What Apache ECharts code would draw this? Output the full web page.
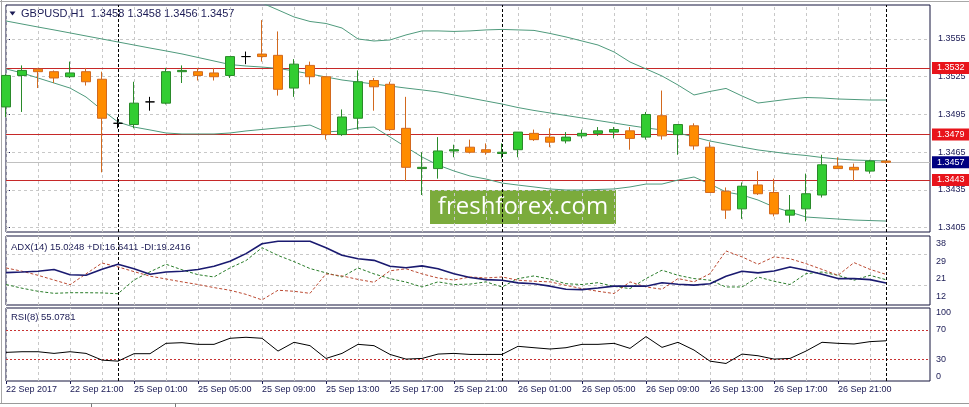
<!DOCTYPE html>
<html><head><meta charset="utf-8">
<script src="https://cdn.jsdelivr.net/npm/echarts@6/dist/echarts.min.js"></script>
<style>html,body{margin:0;padding:0;background:#fff;}#c{width:969px;height:407px;}</style>
</head><body><div id="c"></div>
<script>
const symbol = 'GBPUSD,H1';
const times = [
 '22 Sep 17:00','22 Sep 18:00','22 Sep 19:00','22 Sep 20:00','22 Sep 21:00','22 Sep 22:00','22 Sep 23:00',
 '25 Sep 00:00','25 Sep 01:00','25 Sep 02:00','25 Sep 03:00','25 Sep 04:00','25 Sep 05:00','25 Sep 06:00','25 Sep 07:00',
 '25 Sep 08:00','25 Sep 09:00','25 Sep 10:00','25 Sep 11:00','25 Sep 12:00','25 Sep 13:00','25 Sep 14:00','25 Sep 15:00',
 '25 Sep 16:00','25 Sep 17:00','25 Sep 18:00','25 Sep 19:00','25 Sep 20:00','25 Sep 21:00','25 Sep 22:00','25 Sep 23:00',
 '26 Sep 00:00','26 Sep 01:00','26 Sep 02:00','26 Sep 03:00','26 Sep 04:00','26 Sep 05:00','26 Sep 06:00','26 Sep 07:00',
 '26 Sep 08:00','26 Sep 09:00','26 Sep 10:00','26 Sep 11:00','26 Sep 12:00','26 Sep 13:00','26 Sep 14:00','26 Sep 15:00',
 '26 Sep 16:00','26 Sep 17:00','26 Sep 18:00','26 Sep 19:00','26 Sep 20:00','26 Sep 21:00','26 Sep 22:00','26 Sep 23:00',
 '27 Sep 00:00'
];
const tickLabels = ['22 Sep 2017','22 Sep 21:00','25 Sep 01:00','25 Sep 05:00','25 Sep 09:00','25 Sep 13:00','25 Sep 17:00',
 '25 Sep 21:00','26 Sep 01:00','26 Sep 05:00','26 Sep 09:00','26 Sep 13:00','26 Sep 17:00','26 Sep 21:00'];

const open = [
 1.3501,1.3526,1.3531,1.3529,1.3525,1.3529,1.3523,1.3488,
 1.3487,1.3505,1.3504,1.3529,1.3529,1.3528,1.3526,1.3541,
 1.3543,1.3542,1.3516,1.3534,1.3525,1.3479,1.3492,1.3522,
 1.3519,1.3484,1.3452,1.3452,1.3466,1.3469,1.3467,1.3464,
 1.3467,1.3480,1.3477,1.3474,1.3478,1.3480,1.3481,1.3482,
 1.3477,1.3494,1.3479,1.3486,1.3469,1.3434,1.3420,1.3439,
 1.3433,1.3415,1.3420,1.3431,1.3454,1.3453,1.3450,1.3458];
const close = [
 1.3526,1.3530,1.3529,1.3524,1.3528,1.3521,1.3492,1.3488,
 1.3504,1.3505,1.3529,1.3530,1.3526,1.3525,1.3541,1.3541,
 1.3541,1.3515,1.3535,1.3525,1.3479,1.3493,1.3521,1.3517,
 1.3483,1.3453,1.3453,1.3466,1.3467,1.3465,1.3465,1.3465,
 1.3481,1.3475,1.3473,1.3477,1.3480,1.3482,1.3483,1.3476,
 1.3495,1.3478,1.3487,1.3470,1.3433,1.3419,1.3438,1.3432,
 1.3416,1.3419,1.3432,1.3455,1.3452,1.3451,1.3458,1.3457];
const low = [
 1.3493,1.3497,1.3516,1.3520,1.3524,1.3518,1.3449,1.3484,
 1.3484,1.3498,1.3503,1.3520,1.3522,1.3522,1.3524,1.3535,
 1.3537,1.3510,1.3509,1.3519,1.3475,1.3478,1.3483,1.3498,
 1.3482,1.3442,1.3431,1.3444,1.3461,1.3464,1.3463,1.3460,
 1.3461,1.3474,1.3469,1.3472,1.3476,1.3478,1.3476,1.3467,
 1.3475,1.3475,1.3463,1.3467,1.3433,1.3412,1.3412,1.3431,
 1.3414,1.3409,1.3410,1.3429,1.3452,1.3442,1.3448,1.3456];
const high = [
 1.3527,1.3534,1.3532,1.3530,1.3537,1.3532,1.3529,1.3493,
 1.3521,1.3509,1.3532,1.3534,1.3532,1.3532,1.3541,1.3545,
 1.3570,1.3561,1.3539,1.3537,1.3525,1.3499,1.3530,1.3524,
 1.3521,1.3509,1.3465,1.3477,1.3471,1.3475,1.3472,1.3472,
 1.3481,1.3483,1.3484,1.3481,1.3483,1.3485,1.3485,1.3485,
 1.3497,1.3514,1.3487,1.3488,1.3473,1.3437,1.3441,1.3450,
 1.3444,1.3431,1.3448,1.3463,1.3461,1.3456,1.3459,1.3458];

const bbUpper = [
 1.36075,1.36059,1.36051,1.36043,1.36035,1.36059,1.36114,1.36162,
 1.36154,1.36130,1.36106,1.36067,1.36011,1.35955,1.35892,1.35852,
 1.35836,1.35781,1.35725,1.35689,1.35673,1.35637,1.35550,1.35534,
 1.35542,1.35582,1.35614,1.35614,1.35610,1.35614,1.35622,1.35626,
 1.35622,1.35618,1.35594,1.35566,1.35534,1.35502,1.35447,1.35367,
 1.35312,1.35256,1.35184,1.35105,1.35133,1.35157,1.35097,1.35041,
 1.35057,1.35073,1.35085,1.35081,1.35073,1.35069,1.35065,1.35065];
const bbMiddle = [
 1.35693,1.35669,1.35645,1.35622,1.35598,1.35574,1.35550,1.35526,
 1.35502,1.35478,1.35455,1.35431,1.35403,1.35375,1.35347,1.35335,
 1.35327,1.35316,1.35296,1.35272,1.35248,1.35224,1.35208,1.35192,
 1.35176,1.35160,1.35145,1.35129,1.35105,1.35081,1.35057,1.35033,
 1.35005,1.34982,1.34962,1.34942,1.34922,1.34902,1.34882,1.34862,
 1.34843,1.34827,1.34803,1.34771,1.34739,1.34715,1.34691,1.34668,
 1.34652,1.34636,1.34624,1.34608,1.34596,1.34588,1.34584,1.34580];
const bbLower = [
 1.35312,1.35280,1.35240,1.35200,1.35160,1.35089,1.34986,1.34890,
 1.34850,1.34827,1.34803,1.34795,1.34795,1.34795,1.34803,1.34819,
 1.34831,1.34843,1.34854,1.34866,1.34811,1.34819,1.34843,1.34850,
 1.34771,1.34691,1.34612,1.34548,1.34501,1.34461,1.34437,1.34405,
 1.34389,1.34374,1.34358,1.34350,1.34350,1.34354,1.34358,1.34374,
 1.34397,1.34397,1.34429,1.34453,1.34397,1.34334,1.34310,1.34270,
 1.34215,1.34175,1.34135,1.34127,1.34119,1.34111,1.34107,1.34103];

const adx = [
 20.1,20.4,20.8,21.6,19.1,18.8,21.8,24.2,
 22.0,19.3,20.4,20.8,21.6,23.2,25.7,29.4,
 34.2,35.4,35.4,35.4,32.3,28.6,26.9,26.1,
 23.2,22.5,23.4,22.0,19.6,17.7,16.7,16.4,
 15.1,14.7,13.5,12.0,11.8,12.6,13.5,13.6,
 13.5,15.2,14.4,14.0,14.7,18.3,20.8,20.0,
 20.9,22.9,21.3,19.3,17.2,17.2,16.7,15.0248];
const plusDI = [
 14.3,12.5,11.0,10.0,10.3,10.3,10.2,9.8,
 16.5,20.5,24.2,21.5,19.1,18.0,22.4,26.0,
 32.3,28.5,25.5,22.1,20.0,18.0,22.4,19.5,
 17.2,15.5,13.1,15.6,14.3,14.5,15.6,13.1,
 17.2,18.5,16.9,14.7,14.3,15.2,13.4,12.3,
 17.2,21.3,18.8,17.2,16.4,13.1,13.1,18.0,
 15.9,14.3,19.6,20.4,18.8,16.4,18.8,16.6411];
const minusDI = [
 22.4,20.8,18.8,16.5,14.2,19.5,24.8,22.9,
 20.6,18.4,17.0,15.6,14.3,12.8,11.5,9.5,
 6.8,11.5,11.0,10.0,19.5,18.5,16.8,15.4,
 21.0,22.0,19.5,17.5,16.5,18.0,17.5,18.0,
 16.4,15.9,15.6,13.9,12.3,11.0,9.9,15.6,
 13.1,12.0,17.2,15.6,19.6,30.7,27.8,24.2,
 27.8,26.9,24.5,21.7,18.8,25.0,21.7,19.2416];
const rsi = [
 39.2,40.1,40.1,37.8,40.1,37.8,28.6,27.2,
 37.4,37.4,51.6,52.5,50.2,50.2,58.5,59.9,
 58.5,41.0,53.0,48.4,30.9,37.8,50.2,48.4,
 36.4,30.0,30.9,36.9,37.8,36.4,36.4,36.4,
 47.5,45.6,43.8,45.6,50.2,50.2,51.6,44.7,
 60.8,46.1,53.0,42.4,27.2,24.0,36.9,34.6,
 30.0,30.9,41.0,53.0,51.6,50.7,53.9,55.0781];

const priceTicks = [1.3405,1.3435,1.3465,1.3495,1.3525,1.3555];
const levels = [1.3532,1.3479,1.3443];
const adxTicks = [12,20.67,29.33,38];
const adxGridLevels = [14,29];
const rsiTicks = [0,30,70,100];
const rsiLevels = [30,70];

const FONT = 'Liberation Sans';
const NAVY = '#1b1b55';
const GRIDC = '#c8c8c8';
const last = times.length - 1;
const xMax = 57.75;
const gridIdx = times.map((t,i)=>i).filter(i=>i%2===0);
const tickIdx = tickLabels.map((t,i)=>i*4);
const daySep = times.map((t,i)=>t.endsWith('00:00') ? i : -1).filter(i=>i>=0);

const gridV = gridIdx.map(i=>({xAxis:i, lineStyle:{color:GRIDC,type:[3,3],width:1}}));
const sepV = daySep.map(i=>({xAxis:i, lineStyle:{color:'#000',type:[3,2],width:1}}));
const boxLabel = (txt,bg)=>({show:true, position:'end', formatter:()=>txt, color:'#fff', backgroundColor:bg,
  padding:[2,8,1,5], distance:2, fontSize:9, fontFamily:FONT});

const grids = [
 {left:6,right:39,top:5,height:227},
 {left:6,right:39,top:236,height:69},
 {left:6,right:39,top:308,height:73}
].map(g=>Object.assign(g,{show:true,borderColor:'#14143c',borderWidth:1,backgroundColor:'transparent',containLabel:false,outerBoundsMode:'none'}));

const xAxes = [0,1,2].map(gi=>({
 type:'value', gridIndex:gi, min:0, max:xMax,
 axisLine:{show:false}, splitLine:{show:false},
 axisTick:{show:gi===2, customValues:tickIdx, length:3, lineStyle:{color:NAVY}},
 axisLabel:{show:gi===2, customValues:tickIdx, hideOverlap:false,
   formatter:v=>{const j=tickIdx.indexOf(Math.round(v)); return j>=0?tickLabels[j]:'';},
   align:'left', color:NAVY, fontSize:9, fontFamily:FONT, margin:4}
}));

const yAxes = [
 {type:'value', gridIndex:0, position:'right', min:1.34016, max:1.35820, scale:true,
  axisLine:{show:false}, splitLine:{show:false},
  axisTick:{show:true, customValues:priceTicks, length:4, lineStyle:{color:NAVY}},
  axisLabel:{customValues:priceTicks, formatter:v=>v.toFixed(4), color:NAVY, fontSize:9, fontFamily:FONT, margin:8, hideOverlap:false}},
 {type:'value', gridIndex:1, position:'right', min:4.3, max:38,
  axisLine:{show:false}, splitLine:{show:false}, axisTick:{show:false},
  axisLabel:{customValues:adxTicks, formatter:v=>String(Math.round(v)), verticalAlign:'top', padding:[3,0,0,0],
   color:NAVY, fontSize:9, fontFamily:FONT, margin:6, hideOverlap:false}},
 {type:'value', gridIndex:2, position:'right', min:0, max:100,
  axisLine:{show:false}, splitLine:{show:false}, axisTick:{show:false},
  axisLabel:{customValues:rsiTicks, verticalAlignMaxLabel:'top', verticalAlignMinLabel:'bottom',
   color:NAVY, fontSize:9, fontFamily:FONT, margin:6, hideOverlap:false}}
];

const lastClose = close[last];
const mainMarks = [].concat(
 priceTicks.map(v=>({yAxis:v, lineStyle:{color:GRIDC,type:[3,3],width:1}})),
 gridV,
 [{yAxis:lastClose, lineStyle:{color:'#c0c0c0',type:'solid',width:1}, label:boxLabel(lastClose.toFixed(4),'#000080')}],
 levels.map(v=>({yAxis:v, lineStyle:{color:'#c62828',type:'solid',width:1}, label:boxLabel(v.toFixed(4),'#e8141b')})),
 sepV
);
const adxMarks = [].concat(
 adxGridLevels.map(v=>({yAxis:v, lineStyle:{color:GRIDC,type:[3,3],width:1}})),
 gridV, sepV);
const rsiMarks = [].concat(
 gridV,
 rsiLevels.map(v=>({yAxis:v, lineStyle:{color:'#c83232',type:[2,2],width:1}})),
 sepV);

const pts = arr => arr.map((v,i)=>[i,v]);
const bbStyle = {color:'#4f9a7c', width:1};
const mk = data => ({z:1, silent:true, precision:6, symbol:['none','none'], label:{show:false}, animation:false, data});

const option = {
 animation:false,
 grid:grids, xAxis:xAxes, yAxis:yAxes,
 series:[
  {type:'line', name:'BB middle', xAxisIndex:0, yAxisIndex:0, data:pts(bbMiddle), showSymbol:false, symbol:'none',
   lineStyle:bbStyle, z:2, silent:true, markLine:mk(mainMarks)},
  {type:'line', name:'BB upper', xAxisIndex:0, yAxisIndex:0, data:pts(bbUpper), showSymbol:false, symbol:'none', lineStyle:bbStyle, z:2, silent:true},
  {type:'line', name:'BB lower', xAxisIndex:0, yAxisIndex:0, data:pts(bbLower), showSymbol:false, symbol:'none', lineStyle:bbStyle, z:2, silent:true},
  {type:'candlestick', name:symbol, xAxisIndex:0, yAxisIndex:0, barWidth:10, z:3, clip:true,
   itemStyle:{color:'#32cd32', color0:'#ff8c00', borderColor:'#2a8a2a', borderColor0:'#d2691e', borderWidth:1},
   data: times.map((t,i)=>{
     const it = {value:[i, open[i], close[i], low[i], high[i]]};
     if (open[i]===close[i]) it.itemStyle = {color:'#000', color0:'#000', borderColor:'#000', borderColor0:'#000'};
     return it;
   })},
  {type:'line', name:'+DI', xAxisIndex:1, yAxisIndex:1, data:pts(plusDI), showSymbol:false, symbol:'none',
   lineStyle:{color:'#2a7d2a', width:1, type:[3,2]}, z:2, silent:true, markLine:mk(adxMarks)},
  {type:'line', name:'-DI', xAxisIndex:1, yAxisIndex:1, data:pts(minusDI), showSymbol:false, symbol:'none',
   lineStyle:{color:'#bb4a32', width:1, type:[3,2]}, z:2, silent:true},
  {type:'line', name:'ADX', xAxisIndex:1, yAxisIndex:1, data:pts(adx), showSymbol:false, symbol:'none',
   lineStyle:{color:'#1a1a70', width:1.6}, z:3, silent:true},
  {type:'line', name:'RSI', xAxisIndex:2, yAxisIndex:2, data:pts(rsi), showSymbol:false, symbol:'none',
   lineStyle:{color:'#000', width:1}, z:3, silent:true, markLine:mk(rsiMarks)}
 ],
 graphic:[
  {type:'line', shape:{x1:0,y1:1.5,x2:969,y2:1.5}, style:{stroke:'#a8a8a8',lineWidth:1}, silent:true},
  {type:'line', shape:{x1:1.5,y1:0,x2:1.5,y2:404}, style:{stroke:'#a8a8a8',lineWidth:1}, silent:true},
  {type:'line', shape:{x1:0,y1:403.5,x2:969,y2:403.5}, style:{stroke:'#9a9a9a',lineWidth:1}, silent:true},
  {type:'line', shape:{x1:91.5,y1:403.5,x2:91.5,y2:407}, style:{stroke:'#777',lineWidth:1}, silent:true},
  {type:'line', shape:{x1:175.5,y1:403.5,x2:175.5,y2:407}, style:{stroke:'#777',lineWidth:1}, silent:true},
  {type:'polygon', shape:{points:[[9.5,11.5],[15.5,11.5],[12.5,15.5]]}, style:{fill:NAVY}, silent:true},
  {type:'text', x:21, y:14, silent:true, style:{
    text: symbol+'  '+open[last].toFixed(4)+' '+high[last].toFixed(4)+' '+low[last].toFixed(4)+' '+close[last].toFixed(4),
    fill:NAVY, font:'11px "Liberation Sans"', verticalAlign:'middle'}},
  {type:'text', x:11, y:247, silent:true, style:{
    text:'ADX(14) '+adx[last].toFixed(4)+' +DI:'+plusDI[last].toFixed(4)+' -DI:'+minusDI[last].toFixed(4),
    fill:NAVY, font:'9.5px "Liberation Sans"', verticalAlign:'middle'}},
  {type:'text', x:11, y:317.5, silent:true, style:{
    text:'RSI(8) '+rsi[last].toFixed(4), fill:NAVY, font:'9.5px "Liberation Sans"', verticalAlign:'middle'}},
  {type:'group', z:100, children:[
    {type:'rect', shape:{x:430,y:190,width:186,height:34}, style:{fill:'#7bab3c'}},
    {type:'text', x:523, y:207.5, style:{text:'freshforex.com', fill:'#fff', font:'24px "Open Sans"', align:'center', verticalAlign:'middle'}}
  ]}
 ]
};
const chart = echarts.init(document.getElementById('c'), null, {renderer:'canvas', width:969, height:407});
chart.setOption(option);
</script>
</body></html>
